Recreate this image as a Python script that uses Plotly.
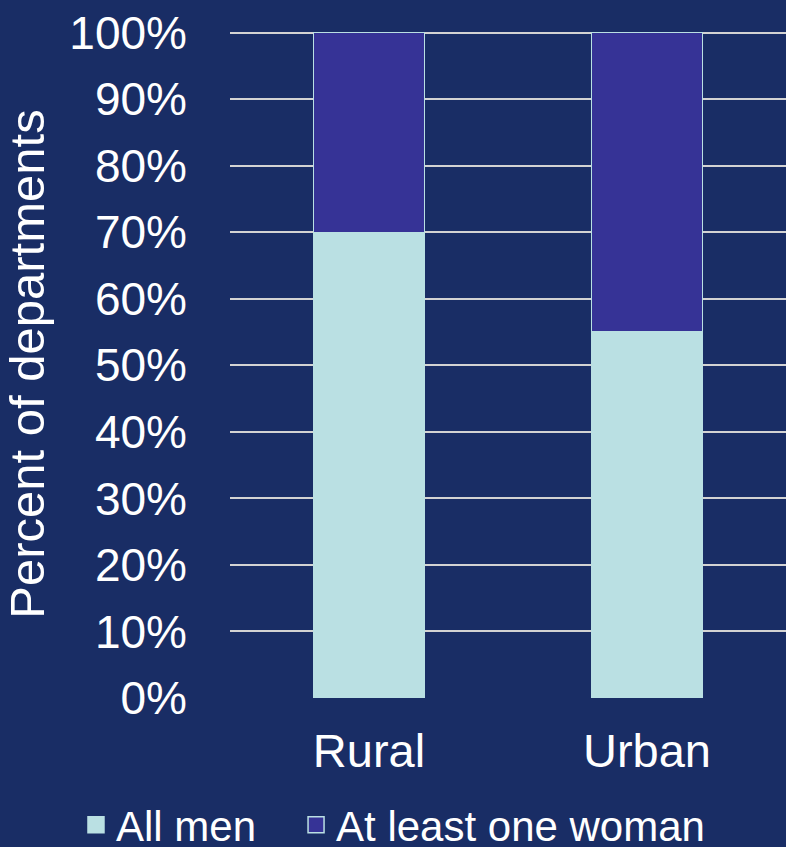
import plotly.graph_objects as go

# --- data ---
areas = ["Rural", "Urban"]
all_men = [70, 55]
at_least_one_woman = [30, 45]
y_ticks = [0, 10, 20, 30, 40, 50, 60, 70, 80, 90, 100]
y_tick_labels = [f"{t}%" for t in y_ticks]

BG = "#192D65"
LIGHT = "#BAE0E3"
PURPLE = "#363396"
FONT = "Liberation Sans, Arial, sans-serif"

fig = go.Figure()
fig.add_trace(go.Bar(
    x=areas, y=all_men, name="All men", showlegend=False,
    marker=dict(color=LIGHT, line=dict(color=LIGHT, width=1.5)),
))
fig.add_trace(go.Bar(
    x=areas, y=at_least_one_woman, name="At least one woman", showlegend=False,
    marker=dict(color=PURPLE, line=dict(color=LIGHT, width=1.5)),
))
# legend entries with bigger square swatches (nbsp pads the gap between entries)
legend_names = ["All men" + "\u00a0" * 3, "At least one woman"]
for name, col in zip(legend_names, [LIGHT, PURPLE]):
    fig.add_trace(go.Scatter(
        x=[None], y=[None], mode="markers", name=name,
        marker=dict(symbol="square", size=16, color=col, line=dict(color=LIGHT, width=1.5)),
    ))

fig.update_layout(
    width=786, height=847,
    barmode="stack", bargap=0.6,
    paper_bgcolor=BG, plot_bgcolor=BG,
    font=dict(family=FONT, size=46, color="white"),
    margin=dict(l=230, r=0, t=30, b=149, autoexpand=False),
    showlegend=True,
    legend=dict(
        orientation="h", x=-0.277, xanchor="left", y=-0.19, yanchor="middle",
        font=dict(size=42, color="white"), traceorder="normal",
        bgcolor="rgba(0,0,0,0)", itemsizing="trace",
    ),
)
fig.update_yaxes(
    range=[0, 100.4], tickvals=y_ticks, ticktext=y_tick_labels,
    showgrid=True, gridcolor="#D3D3D3", gridwidth=2, zeroline=False,
    ticklabelstandoff=42,
    title=dict(text="Percent of departments", font=dict(size=49), standoff=16),
)
fig.update_xaxes(showgrid=False, ticklabelstandoff=21, tickfont=dict(size=47))

fig.write_html("out.html", config={"displayModeBar": False},
               post_script="document.body.style.margin='0px';")
